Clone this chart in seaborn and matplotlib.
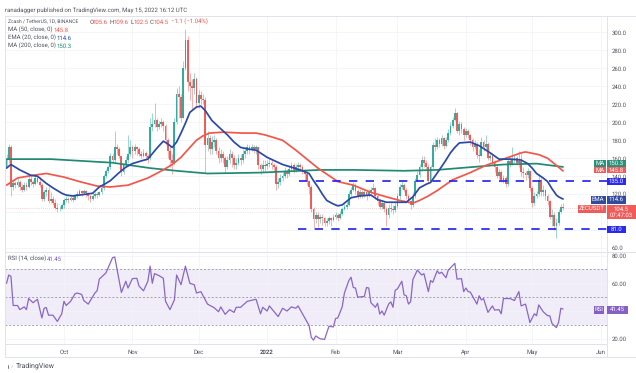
import matplotlib
matplotlib.use("Agg")
import matplotlib.pyplot as plt
from matplotlib.patches import Rectangle, Polygon
import numpy as np
import seaborn as sns

# ---------- daily candles, first candle 5 Sep 2021; day 0 = 1 Oct 2021 ----------
first_day = -26
first_open = 150
close_sep = [158,172,128,132,130,134,128,125,130,128,137,133,131,138,134,130,115,122,125,112,115,110,105,103,104,108]
high_sep = [165,176,175,137,135,138,136,131,134,134,140,140,136,141,140,139,132,125,128,128,122,118,115,110,107,110]
low_sep = [150,155,118,125,127,128,125,122,124,125,127,130,128,130,132,128,112,112,118,110,110,108,103,100,101,103]
close_oct = [113,115,113,116,114,118,120,123,121,124,121,118,115,118,120,119,122,127,140,146,150,163,158,172,170,162,145,152,158,165,172]
high_oct = [116,118,117,119,118,120,123,126,125,126,125,122,119,121,122,122,124,129,142,148,153,166,166,190,176,172,163,155,162,186,180]
low_oct = [105,111,110,112,111,113,116,119,118,120,117,113,111,113,116,116,118,120,125,138,144,148,155,156,165,160,140,142,150,155,162]
close_nov = [168,172,170,165,163,166,162,160,195,198,203,195,198,200,196,180,168,158,155,200,232,228,205,261,292,245,240,238,248,222]
high_nov = [175,176,174,172,168,170,168,165,205,210,222,205,202,205,203,198,182,172,165,205,238,240,232,268,304,296,255,248,255,250]
low_nov = [160,165,164,162,160,161,158,155,158,190,195,190,192,195,190,175,160,150,142,152,198,205,200,205,258,235,225,215,232,218]
close_dec = [230,226,225,175,182,170,178,180,168,160,165,160,150,158,165,160,152,155,160,158,165,168,172,170,172,170,172,152,148,153,151]
high_dec = [236,235,232,228,190,186,185,186,182,172,170,168,163,162,170,168,164,160,165,165,170,172,176,175,176,175,175,173,155,158,158]
low_dec = [216,220,220,143,168,165,165,172,165,155,156,155,145,148,155,150,148,148,152,153,155,160,165,165,168,166,165,148,142,145,146]
close_jan = [154,155,152,150,131,133,138,140,145,142,148,152,147,150,152,150,146,142,135,128,104,92,97,92,95,93,88,90,93,91,95]
high_jan = [158,160,158,155,152,138,142,145,150,148,152,156,155,154,156,155,152,148,146,136,130,106,100,100,98,98,95,93,96,95,98]
low_jan = [148,150,148,146,125,127,130,135,138,138,140,146,144,145,148,146,142,136,130,120,100,82,88,83,88,86,84,84,87,85,90]
close_feb = [97,93,98,103,106,108,120,125,130,124,118,122,119,122,118,122,125,127,118,112,106,110,104,97,105,104,102,107]
high_feb = [100,99,101,106,109,112,123,128,134,132,126,126,125,125,124,126,128,132,128,120,115,114,112,106,109,110,108,112]
low_feb = [92,90,92,97,102,104,107,118,123,120,115,116,116,117,114,117,120,123,115,108,103,103,100,85,94,100,98,100]
close_mar = [118,128,130,125,118,112,108,118,135,141,150,158,155,150,135,150,175,172,180,176,182,174,180,188,196,203,210,190,198,192,186]
high_mar = [121,131,135,132,127,120,114,122,138,146,154,162,162,158,154,153,178,182,184,183,186,184,184,192,200,206,216,212,202,200,195]
low_mar = [105,115,126,122,115,110,104,106,116,133,139,148,150,148,132,133,148,168,170,172,174,170,172,178,186,194,201,188,186,188,180]
close_apr = [190,186,180,172,176,164,163,178,172,176,160,163,155,150,140,145,136,138,131,157,153,158,160,155,157,145,143,141,146,127]
high_apr = [194,192,187,183,180,178,170,184,180,186,178,167,166,158,152,148,147,141,140,160,162,172,165,163,168,166,150,146,149,147]
low_apr = [184,182,175,168,170,160,156,162,168,170,158,157,152,145,138,137,134,132,128,129,150,152,155,152,150,140,138,136,138,124]
close_may = [110,118,120,136,122,125,118,112,95,97,85,88,100,105.6,104.5]
high_may = [129,122,124,142,138,130,126,120,114,103,100,94,104,109,109.6]
low_may = [106,108,116,118,118,118,114,108,92,85,80,71,86,99,102.5]

# ---------- moving averages read at key days ----------
ema_days = [-26,-24,-22,-20,-15,-12,-10,-8,-5,-3,-1,1,4,7,10,13,16,19,21,25,28,31,35,38,42,45,47,49,51,53,55,57,60,62,64,67,70,74,77,80,84,87,92,99,103,107,111,113,115,117,119,122,124,126,128,130,134,139,142,146,151,155,158,161,164,166,168,170,173,175,177,179,184,188,193,197,202,207,210,212,214,217,219,221,223,224,226]
ema_vals = [149,153,150,147,141,140,136,132,127,124,121,119,118,119,120,121,128,132,135,144,150,154,157,159,171,179,176,172,178,188,199,211,217,218,213,202,195,186,178,172,170,169,161,153,150,147,143,135,128,120,113,109,107,108,112,116,118,119,114,111,111,111,117,127,131,133,140,147,158,166,172,177,178,174,166,159,159,158,154,149,143,138,134,126,119,117,114.6]
ma50_days = [-26,-21,-14,-8,0,7,15,21,29,38,45,49,53,57,60,63,66,72,81,87,91,99,105,115,124,131,139,146,152,158,161,165,169,176,184,191,199,207,209,211,215,219,223,226]
ma50_vals = [130,138,141,143,139,134,129,128,130,138,147,153,161,172,180,185,188,189,188,188,186,180,169,149,134,130,122,117,113,110,113,118,124,136,144,152,159,166,167,166,164,160,152,145.8]
ma200_days = [-26,-6,22,39,51,65,89,116,131,154,169,184,199,214,226]
ma200_vals = [159,159,155,149,146,143,144,147,147,146,147,150,153,154,150.3]

# ---------- RSI ----------
rsi_days = [-26,-25,-24,-23,-21,-20,-18,-17,-16,-14,-12,-10,-9,-8,-7,-5,-3,-1,0,1,3,5,6,8,9,11,14,15,16,19,22,23,26,28,29,31,33,34,36,38,39,40,41,43,45,46,48,50,51,53,55,57,59,60,62,65,68,70,71,73,75,77,78,80,83,87,89,90,92,93,97,99,101,103,105,106,108,111,112,113,114,116,118,120,122,123,124,126,127,129,130,131,132,133,136,137,138,139,141,142,143,144,145,147,148,149,150,151,153,154,155,156,157,158,160,162,163,165,166,167,169,170,171,173,174,177,178,180,181,182,183,184,187,188,189,190,192,194,195,197,198,199,202,204,206,207,209,211,213,214,215,217,219,220,221,223,224,225,226]
rsi_vals = [60,66,65,44,44,41,43,41,49,46,48.5,35,42,42.5,37,37,32.5,38,47,44,47,52.4,53,52,47.5,45,53,54.6,63,67.5,78.5,79,53.4,61.5,56.6,63.4,63.6,58,54.6,61.5,72.4,60,67,65.6,63.6,47,41,48,66,59,72.4,60,59,53,54,45,42.4,39.5,43,37.6,41,39,42.7,42.7,47,48.5,38,42.7,40,43.7,36,42,40,43,42,43.7,38,29.5,21,19,22,20,19.5,29,28.5,34.6,35,43,53,62,64.4,57,56.6,50,50.5,57,56.6,46,42.7,45.6,37.8,40,37,45,46.6,42.7,55,56,61.5,51.7,51,45,46.8,62.7,69.5,66,67,54,62,60.7,69,67,68,64,69.5,74.4,63,63.4,54,56.6,54,53.7,45,51,48,49,39,43.7,40.7,41,38,49,49,47.6,54,43.7,45,31.7,38,36.6,44.4,39.5,36.6,36.6,31,28,32,42,41.45]

level_high = 135.0
level_low = 81.0
last_close = 104.5
price_ticks = [60,80,100,120,140,160,180,200,220,240,260,280,300]
rsi_ticks = [20,40,60,80]
rsi_bands = [30,50,70]
month_days = [0,31,61,92,123,151,182,212,243]
month_names = ["Oct","Nov","Dec","2022","Feb","Mar","Apr","May","Jun"]

opens_close = close_sep+close_oct+close_nov+close_dec+close_jan+close_feb+close_mar+close_apr+close_may
highs = np.array(high_sep+high_oct+high_nov+high_dec+high_jan+high_feb+high_mar+high_apr+high_may, float)
lows = np.array(low_sep+low_oct+low_nov+low_dec+low_jan+low_feb+low_mar+low_apr+low_may, float)
closes = np.array(opens_close, float)
opens = np.r_[first_open, closes[:-1]]
days = np.arange(len(closes)) + first_day
assert len(closes) == len(highs) == len(lows) == 253
assert len(ema_days) == len(ema_vals) and len(ma50_days) == len(ma50_vals)
assert len(ma200_days) == len(ma200_vals) and len(rsi_days) == len(rsi_vals)

UP, DOWN = "#26a69a", "#ef5350"
EMA_C, MA50_C, MA200_C = "#2a4aa8", "#f4564a", "#1f8a72"
BLUE, RSI_C = "#1f1ff0", "#7e57c2"
TXT, GRID, EDGE = "#50535e", "#f2f4f9", "#e0e3eb"
W, H = 636, 373

sns.set_theme(style="white")
plt.rcParams["font.family"] = ["Roboto", "DejaVu Sans"]
plt.rcParams["lines.solid_joinstyle"] = "round"
plt.rcParams["text.hinting"] = "no_hinting"
plt.rcParams["text.hinting_factor"] = 1
fig = plt.figure(figsize=(W/100, H/100), dpi=100, facecolor="white")

def axes_px(x0, y0, x1, y1):
    return fig.add_axes([x0/W, 1-y1/H, (x1-x0)/W, (y1-y0)/H])

ax = axes_px(5, 15.5, 607, 252)
rx = axes_px(5, 252, 607, 344)
xlim = (-26.7, 245.9)
FS = 4.3

for a in (ax, rx):
    a.set_xlim(*xlim)
    a.set_xticks(month_days)
    a.grid(True, color=GRID, lw=0.6)
    a.set_axisbelow(True)
    a.yaxis.tick_right()
    a.tick_params(axis="both", length=0, labelsize=FS, labelcolor=TXT, pad=3.5)
    for s in a.spines.values():
        s.set_color(EDGE); s.set_linewidth(0.7)
    a.spines["left"].set_visible(False)

# candles
up = closes >= opens
colors = np.where(up, UP, DOWN)
ax.vlines(days, lows, highs, colors=colors, lw=0.7, alpha=0.45, zorder=2)
ax.bar(days, np.maximum(np.abs(closes-opens), 0.6), bottom=np.minimum(opens, closes),
       width=0.8, color=colors, linewidth=0, alpha=0.92, zorder=3)

# averages
sns.lineplot(x=ma200_days, y=ma200_vals, ax=ax, color=MA200_C, lw=1.25, estimator=None, sort=False, zorder=4)
sns.lineplot(x=ma50_days, y=ma50_vals, ax=ax, color=MA50_C, lw=1.25, estimator=None, sort=False, zorder=5)
sns.lineplot(x=ema_days, y=ema_vals, ax=ax, color=EMA_C, lw=1.25, estimator=None, sort=False, zorder=6)

# levels (start days)
ax.hlines(level_high, 106.5, xlim[1], color=BLUE, lw=1.2, linestyles=(0, (5, 5)), zorder=7)
ax.hlines(level_low, 106, xlim[1], color=BLUE, lw=1.2, linestyles=(0, (5, 5)), zorder=7)
ax.axhline(last_close, color=DOWN, lw=0.6, ls=(0, (1, 1.5)), alpha=0.35, zorder=1)

ax.set_ylim(55.6, 318.9)
ax.set_yticks(price_ticks)
ax.set_yticklabels(["" if v == 100 else f"{v:.1f}" for v in price_ticks])
ax.set_xticklabels([])
ax.set_xlabel(""); ax.set_ylabel("")

# RSI pane
rx.axhspan(rsi_bands[0], rsi_bands[2], color=RSI_C, alpha=0.10, lw=0, zorder=0)
for b in rsi_bands:
    rx.axhline(b, color="#8a8d98", lw=0.55, ls=(0, (2.5, 2.5)), zorder=1)
sns.lineplot(x=rsi_days, y=rsi_vals, ax=rx, color=RSI_C, lw=0.9, alpha=0.9, estimator=None, sort=False, zorder=3)
rx.set_ylim(16.2, 82.6)
rx.set_yticks(rsi_ticks)
rx.set_yticklabels(["" if v == 40 else f"{v:.2f}" for v in rsi_ticks])
rx.set_xticklabels(month_names)
rx.tick_params(axis="x", pad=4)
rx.set_xlabel(""); rx.set_ylabel("")
for lab in rx.get_xticklabels():
    if lab.get_text() == "2022":
        lab.set_fontweight("bold")

# frame pieces outside the panes
def hline_px(x0, x1, y):
    fig.add_artist(plt.Line2D([x0/W, x1/W], [1-y/H, 1-y/H], color=EDGE, lw=0.7))
def vline_px(x, y0, y1):
    fig.add_artist(plt.Line2D([x/W, x/W], [1-y0/H, 1-y1/H], color=EDGE, lw=0.7))
hline_px(5, 636, 15.5); hline_px(5, 636, 357)
hline_px(607, 636, 252)
vline_px(607, 15.5, 357); vline_px(4.5, 15.5, 357)

def txt(x, y, s, color="#50535e", size=FS, **kw):
    return fig.text(x/W, 1-y/H, s, color=color, fontsize=size, va="center", zorder=12, **kw)

def badge(x0, x1, y0, y1, color, label, tc="white", alpha=0.95):
    fig.add_artist(Rectangle((x0/W, 1-y1/H), (x1-x0)/W, (y1-y0)/H, transform=fig.transFigure,
                             facecolor=color, edgecolor="none", alpha=alpha, zorder=10))
    if label:
        txt((x0+x1)/2, (y0+y1)/2, label, color=tc, ha="center", size=FS-0.1)

# header texts
txt(5, 10, "ranadagger published on TradingView.com, May 15, 2022 16:12 UTC")
txt(8, 22, "Zcash / TetherUS, 1D, BINANCE", size=3.95)
for x, lab, val in [(89.5, "O", "105.6"), (110, "H", "109.6"), (130.5, "L", "102.5"), (150, "C", "104.5")]:
    txt(x, 22, lab)
    txt(x + 3.4, 22, val, color=DOWN)
txt(171, 22, "\u22121.1 (\u22121.04%)", color=DOWN)
txt(8, 30, "MA (50, close, 0)");   txt(54, 30, "145.8", color=MA50_C)
txt(8, 38, "EMA (20, close, 0)");  txt(57, 38, "114.6", color=EMA_C)
txt(8, 46, "MA (200, close, 0)");  txt(57, 46, "150.3", color=MA200_C)
txt(8, 259, "RSI (14, close)");    txt(47, 259, "41.45", color=RSI_C)

# right-hand badges
badge(594, 605.5, 160.2, 167, MA200_C, "MA");  badge(607, 626, 160.2, 167, MA200_C, "150.3")
badge(594, 605.5, 167, 173.4, DOWN, "MA");     badge(607, 626, 167, 173.4, DOWN, "145.8")
badge(607, 626, 178.2, 184.8, BLUE, "135.0")
badge(591, 605.5, 196, 203.5, "#26419a", "EMA"); badge(607, 626, 196, 203.5, "#26419a", "114.6")
badge(578, 605.5, 205, 212.5, DOWN, "ZECUSDT")
badge(607, 636, 205, 219.5, DOWN, "")
txt(621.5, 209, "104.5", color="white", ha="center")
txt(621.5, 215.5, "07:47:03", color="white", ha="center")
badge(607, 626, 225.5, 233, BLUE, "81.0")
badge(594, 604, 306, 313.5, RSI_C, "RSI");     badge(607, 628, 306, 313.5, RSI_C, "41.45")

# logo and wordmark
for p in [Polygon([(5/W, 1-363.5/H), (9/W, 1-363.5/H), (9/W, 1-368.5/H), (7/W, 1-368.5/H), (7/W, 1-365/H), (5/W, 1-365/H)],
                  transform=fig.transFigure, facecolor="#2a2e39", zorder=12),
          Polygon([(9.4/W, 1-363.5/H), (10.6/W, 1-363.5/H), (10.6/W, 1-365/H), (9.4/W, 1-365/H)],
                  transform=fig.transFigure, facecolor="#2a2e39", zorder=12),
          Polygon([(10.5/W, 1-368.5/H), (12.5/W, 1-363.5/H), (14/W, 1-363.5/H), (12.3/W, 1-368.5/H)],
                  transform=fig.transFigure, facecolor="#2a2e39", zorder=12)]:
    fig.add_artist(p)
txt(15.5, 366, "TradingView", color="#4a4e59", size=5)

fig.savefig("out.png", dpi=100, facecolor="white")
